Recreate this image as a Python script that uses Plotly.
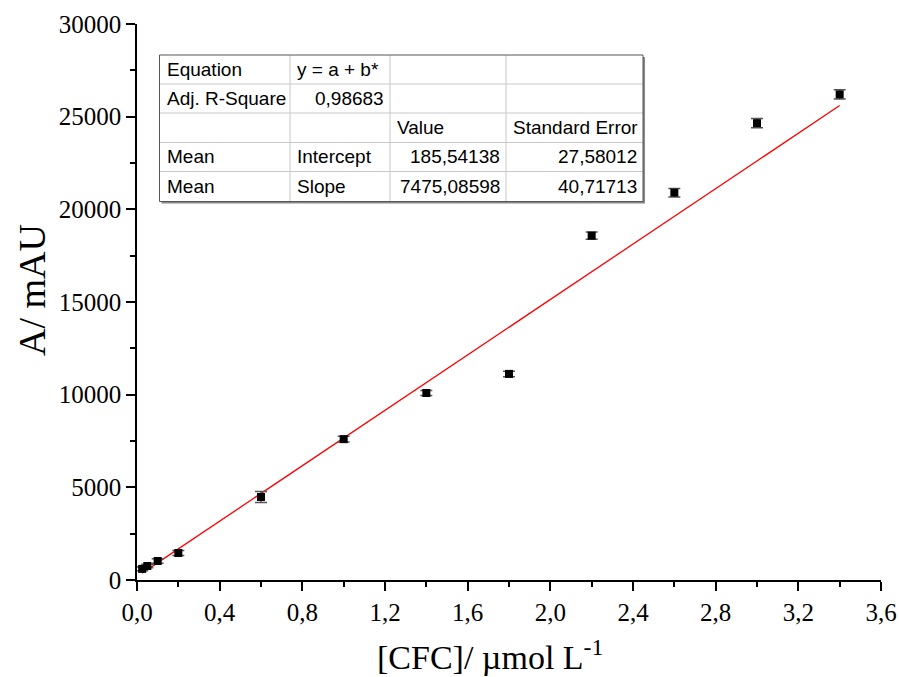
import plotly.graph_objects as go
import numpy as np

# ---- data ----
conc = [0.025, 0.05, 0.1, 0.2, 0.6, 1.0, 1.4, 1.8, 2.2, 2.6, 3.0, 3.4]
absorb = [600, 755, 1025, 1457, 4480, 7600, 10090, 11120, 18580, 20900, 24650, 26200]
err = [100, 100, 120, 130, 300, 150, 130, 150, 200, 230, 250, 250]

intercept = 185.54138
slope = 7475.08598

table_rows = [
    ["Equation", "y = a + b*", "", ""],
    ["Adj. R-Square", "0,98683", "", ""],
    ["", "", "Value", "Standard Error"],
    ["Mean", "Intercept", "185,54138", "27,58012"],
    ["Mean", "Slope", "7475,08598", "40,71713"],
]
col_align = [["left", "left", "", ""],
             ["left", "right", "", ""],
             ["", "", "left", "left"],
             ["left", "left", "right", "right"],
             ["left", "left", "right", "right"]]

x_title = "[CFC]/ µmol L<sup>-1</sup>"
y_title = "A/ mAU"

W, H = 899, 677
L, R, T, B = 137, 881, 24, 580

fig = go.Figure()

fit_x = np.array([min(conc), max(conc)])
fit_y = intercept + slope * fit_x
fig.add_trace(go.Scatter(x=fit_x, y=fit_y, mode="lines",
                         line=dict(color="#ff0000", width=1.3),
                         showlegend=False, hoverinfo="skip"))

fig.add_trace(go.Scatter(
    x=conc, y=absorb, mode="markers",
    marker=dict(symbol="square", size=8, color="black"),
    error_y=dict(type="data", array=err, visible=True, color="#555555",
                 thickness=1.5, width=6),
    showlegend=False))

# table (layout decoration in pixel space)
def px(x):
    return (x - L) / (R - L)

def py(y):
    return (B - y) / (B - T)

cols = [159.5, 290, 390, 506, 643]
rows = [55, 84, 113, 142.5, 171.5, 201.5]
shapes = []
shapes.append(dict(type="rect", xref="paper", yref="paper",
                   x0=px(cols[0] + 2), x1=px(cols[-1] + 2),
                   y0=py(rows[0] + 2), y1=py(rows[-1] + 2),
                   line=dict(width=0), fillcolor="#888888", layer="above"))
shapes.append(dict(type="rect", xref="paper", yref="paper",
                   x0=px(cols[0]), x1=px(cols[-1]),
                   y0=py(rows[0]), y1=py(rows[-1]),
                   line=dict(width=0), fillcolor="white", layer="above"))
for c in cols[1:-1]:
    shapes.append(dict(type="line", xref="paper", yref="paper",
                       x0=px(c), x1=px(c), y0=py(rows[0]), y1=py(rows[-1]),
                       line=dict(color="#c8c8c8", width=1), layer="above"))
for r in rows[1:-1]:
    shapes.append(dict(type="line", xref="paper", yref="paper",
                       x0=px(cols[0]), x1=px(cols[-1]), y0=py(r), y1=py(r),
                       line=dict(color="#c8c8c8", width=1), layer="above"))
shapes.append(dict(type="rect", xref="paper", yref="paper",
                   x0=px(cols[0]), x1=px(cols[-1]),
                   y0=py(rows[0]), y1=py(rows[-1]),
                   line=dict(color="#555555", width=1), fillcolor="rgba(0,0,0,0)",
                   layer="above"))

annotations = []
for i, row in enumerate(table_rows):
    for j, txt in enumerate(row):
        if not txt:
            continue
        al = col_align[i][j]
        yc = (rows[i] + rows[i + 1]) / 2
        if al == "left":
            xx, anc = cols[j] + 5, "left"
        else:
            xx, anc = cols[j + 1] - 4, "right"
        annotations.append(dict(x=px(xx), y=py(yc), xref="paper", yref="paper",
                                text=txt, showarrow=False, xanchor=anc,
                                yanchor="middle",
                                font=dict(family="Liberation Sans, Arial", size=19,
                                          color="black")))

annotations.append(dict(x=px(490), y=py(655), xref="paper", yref="paper",
                        text=x_title, showarrow=False, xanchor="center",
                        yanchor="middle",
                        font=dict(family="Liberation Serif", size=34, color="black")))
annotations.append(dict(x=px(32), y=py(290), xref="paper", yref="paper",
                        text=y_title, showarrow=False, textangle=-90,
                        xanchor="center", yanchor="middle",
                        font=dict(family="Liberation Serif", size=38, color="black")))

fig.update_layout(
    width=W, height=H,
    margin=dict(l=L, r=W - R, t=T, b=H - B, autoexpand=False),
    paper_bgcolor="white", plot_bgcolor="white",
    separators=", ",
    font=dict(family="Liberation Serif, Times New Roman", color="black"),
    shapes=shapes, annotations=annotations,
    xaxis=dict(range=[0, 3.6], tick0=0, dtick=0.4, tickformat=".1f",
               automargin=False,
               showgrid=False, zeroline=False, showline=True,
               linecolor="black", linewidth=1.5,
               ticks="outside", ticklen=9, tickwidth=1.5, tickcolor="black",
               minor=dict(ticks="outside", ticklen=5, tickwidth=1.5,
                          tickcolor="black", dtick=0.2, showgrid=False),
               tickfont=dict(size=25, family="Liberation Serif")),
    yaxis=dict(range=[0, 30000], tick0=0, dtick=5000, tickformat="d",
               automargin=False,
               showgrid=False, zeroline=False, showline=True,
               linecolor="black", linewidth=1.5,
               ticks="outside", ticklen=9, tickwidth=1.5, tickcolor="black",
               minor=dict(ticks="outside", ticklen=5, tickwidth=1.5,
                          tickcolor="black", dtick=2500, showgrid=False),
               tickfont=dict(size=25, family="Liberation Serif")),
)

fig.write_html("out.html")
